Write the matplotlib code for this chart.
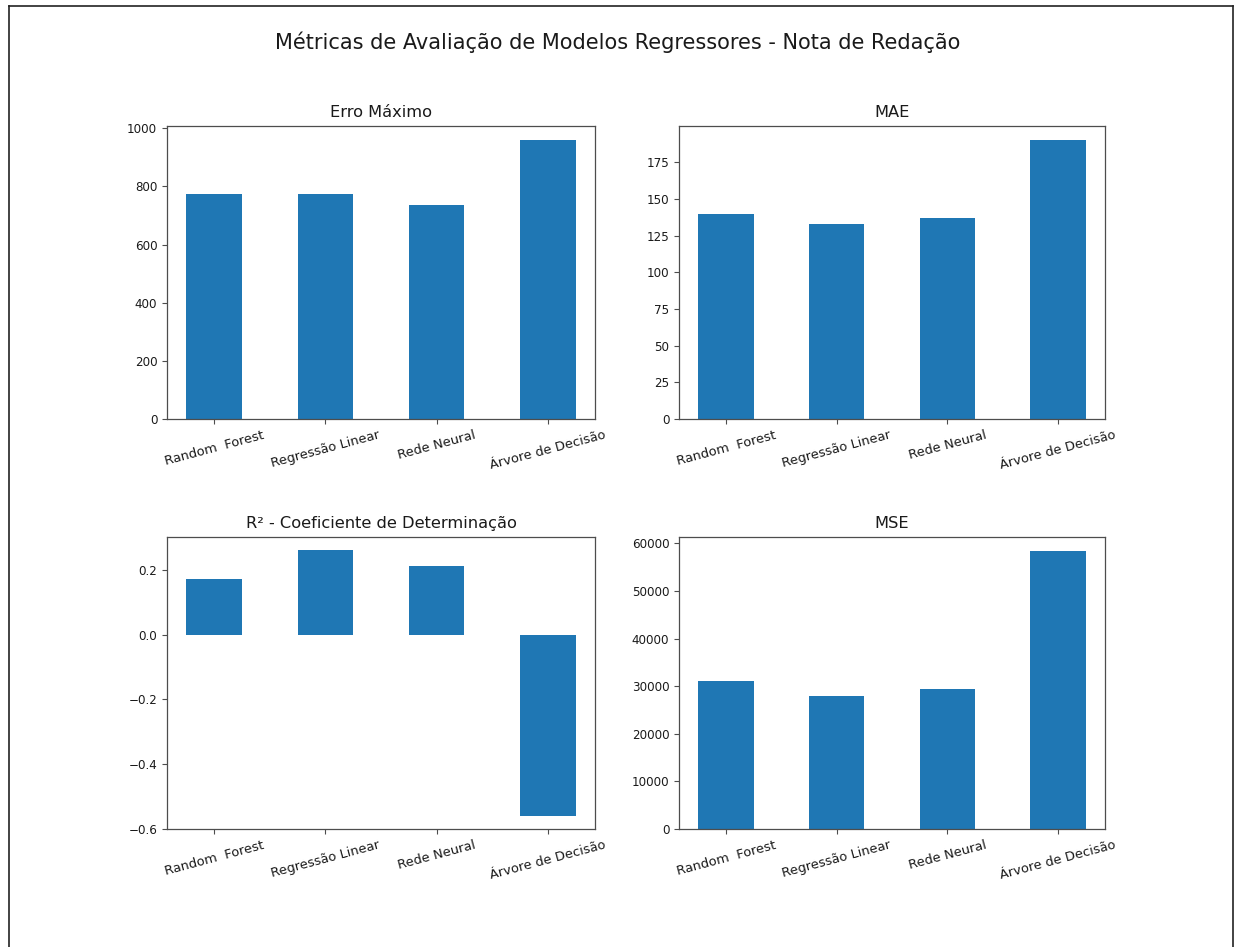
import matplotlib
matplotlib.use("Agg")
import matplotlib.pyplot as plt
from matplotlib.lines import Line2D

modelos = ["Random  Forest", "Regressão Linear", "Rede Neural", "Árvore de Decisão"]

erro_maximo = [774, 774, 735, 960]
mae = [140.0, 133.2, 136.9, 190.2]
r2 = [0.173, 0.262, 0.214, -0.560]
mse = [31180, 27900, 29500, 58400]

titulo = "Métricas de Avaliação de Modelos Regressores - Nota de Redação"
paineis = [
    ("Erro Máximo", erro_maximo),
    ("MAE", mae),
    ("R² - Coeficiente de Determinação", r2),
    ("MSE", mse),
]

cor_barra = "#1f77b4"
cor_texto = "#1a1a1a"
cor_eixo = "#4d4d4d"

plt.rcParams["font.family"] = "DejaVu Sans"

fig = plt.figure(figsize=(12.35, 9.47), dpi=100)
fig.patch.set_facecolor("white")

W, H = 1235, 947
# axes boxes in pixel units: (left, top, right, bottom)
caixas = [
    (167, 126, 595, 419),
    (679, 126, 1105, 419),
    (167, 537, 595, 829),
    (679, 537, 1105, 829),
]

for (nome, valores), (l, t, r, b) in zip(paineis, caixas):
    ax = fig.add_axes([l / W, 1 - b / H, (r - l) / W, (b - t) / H])
    x = list(range(len(modelos)))
    ax.bar(x, valores, width=0.5, color=cor_barra)
    ax.set_xticks(x)
    ax.set_xticklabels(modelos, rotation=15, ha="center",
                       fontsize=9.4, color=cor_texto)
    ax.tick_params(axis="y", labelsize=8.6, labelcolor=cor_texto,
                   color=cor_eixo)
    ax.tick_params(axis="x", color=cor_eixo)
    for s in ax.spines.values():
        s.set_color(cor_eixo)
        s.set_linewidth(0.9)
    ax.set_title(nome, fontsize=11.7, color=cor_texto, pad=6.5)

fig.text(0.5, 1 - 42 / H, titulo, ha="center", va="center",
         fontsize=15, color=cor_texto)

# outer frame around the figure (left, top, right sides)
xl, xr, yt = 8.5 / W, 1232.5 / W, 1 - 6.5 / H
for xs, ys in [([xl, xl], [0, yt]), ([xl, xr], [yt, yt]), ([xr, xr], [yt, 0])]:
    fig.add_artist(Line2D(xs, ys, transform=fig.transFigure,
                          color="#222222", linewidth=1.2))

fig.savefig("out.png", dpi=100, facecolor="white")
